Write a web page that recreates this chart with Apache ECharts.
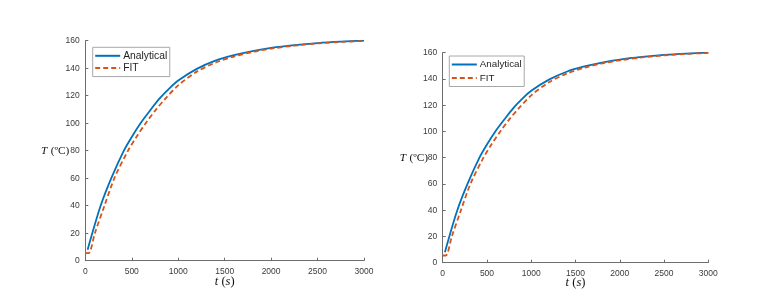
<!DOCTYPE html>
<html>
<head>
<meta charset="utf-8">
<script src="https://cdn.jsdelivr.net/npm/echarts@6/dist/echarts.min.js"></script>
<style>html,body{margin:0;padding:0;background:#fff}#c{width:776px;height:302px}</style>
</head>
<body>
<div id="c"></div>
<script>
const timeAnalytical = [25, 75, 165, 280, 415, 500, 600, 700, 800, 900, 1000, 1200, 1400, 1600, 1800, 2000, 2250, 2500, 2750, 3000];
const tempAnalytical = [8, 20, 40, 60, 80, 90, 100.5, 109.5, 118, 125, 131, 139.5, 145.5, 149.5, 152.5, 154.8, 156.8, 158.3, 159.3, 160];
const timeFit = [0, 35, 103, 206, 316, 460, 550, 650, 750, 850, 1000, 1200, 1400, 1600, 1800, 2000, 2250, 2500, 2750, 3000];
const tempFit = [5.5, 5.5, 20, 40, 60.5, 80, 90, 100, 109, 117, 127.5, 137.5, 144, 148.5, 151.8, 154.2, 156.4, 158, 159.1, 159.8];
const xTicks = [0, 500, 1000, 1500, 2000, 2500, 3000];
const yTicks = [0, 20, 40, 60, 80, 100, 120, 140, 160];
const seriesNames = ['Analytical', 'FIT'];

const pairs = (xs, ys) => xs.map((x, i) => [x, ys[i]]);
const grids = [
  {left: 85.3, right: 412, top: 40.7, bottom: 41.3},
  {left: 442.7, right: 67.7, top: 52.7, bottom: 39.3}
];
const axisCol = '#6e6e6e';
const tickFont = {color: '#3a3a3a', fontSize: 8.5, fontFamily: 'Liberation Sans, Arial, sans-serif'};
const serif = 'Liberation Serif, Times New Roman, serif';
const xAxes = grids.map((g, i) => ({
  type: 'value', gridIndex: i, min: xTicks[0], max: xTicks[xTicks.length - 1], interval: xTicks[1] - xTicks[0],
  axisLine: {onZero: false, lineStyle: {color: axisCol, width: 1}},
  axisTick: {inside: true, length: 3, lineStyle: {color: axisCol}},
  axisLabel: Object.assign({margin: 6, formatter: v => String(v)}, tickFont),
  splitLine: {show: false},
  name: '{i|t} {n|(}{i|s}{n|)}', nameLocation: 'middle', nameGap: i === 0 ? 15 : 14, nameMoveOverlap: false,
  nameTextStyle: {rich: {
    i: {fontFamily: serif, fontStyle: 'italic', fontSize: 12.5, color: '#111'},
    n: {fontFamily: serif, fontSize: 12.5, color: '#111'}
  }}
}));
const yAxes = grids.map((g, i) => ({
  type: 'value', gridIndex: i, min: yTicks[0], max: yTicks[yTicks.length - 1], interval: yTicks[1] - yTicks[0],
  axisLine: {onZero: false, lineStyle: {color: axisCol, width: 1}},
  axisTick: {inside: true, length: 3, lineStyle: {color: axisCol}},
  axisLabel: Object.assign({margin: 5.5, formatter: v => String(v)}, tickFont),
  splitLine: {show: false},
  name: '{i|T} {n|(ºC)}', nameLocation: 'middle', nameRotate: 0, nameGap: i === 0 ? 16 : 14.7, nameMoveOverlap: false,
  nameTextStyle: {align: 'right', rich: {
    i: {fontFamily: serif, fontStyle: 'italic', fontSize: 11.3, color: '#111'},
    n: {fontFamily: serif, fontSize: 11.3, color: '#111'}
  }}
}));
const series = [];
grids.forEach((g, i) => {
  series.push({
    name: seriesNames[0], type: 'line', xAxisIndex: i, yAxisIndex: i, smooth: 0.3, symbol: 'none',
    data: pairs(timeAnalytical, tempAnalytical), lineStyle: {color: '#0072BD', width: 1.8}, itemStyle: {color: '#0072BD'}, z: 2
  });
  series.push({
    name: seriesNames[1], type: 'line', xAxisIndex: i, yAxisIndex: i, smooth: 0.3, symbol: 'none',
    data: pairs(timeFit, tempFit), lineStyle: {color: '#D95319', width: 1.8, type: [5, 3]}, itemStyle: {color: '#D95319'}, z: 3
  });
});
function makeLegend(left, top, fontSize, lineW, gap) {
  return {
    left: left, top: top, orient: 'vertical', data: seriesNames,
    itemWidth: lineW, itemHeight: 10, itemGap: gap,
    itemStyle: {opacity: 0},
    borderColor: '#a8a8a8', borderWidth: 1, padding: [3.5, 2.5, 3.5, 1.5], backgroundColor: '#fff',
    textStyle: {fontSize: fontSize, color: '#1e1e1e', fontFamily: 'Liberation Sans, Arial, sans-serif', padding: [0, 0, 0, -2]},
    selectedMode: false
  };
}
const legends = [
  makeLegend(92.7, 47.3, 10.3, 25, 2.3),
  makeLegend(449.3, 56, 9.8, 25, 3.5)
];
const chart = echarts.init(document.getElementById('c'), null, {renderer: 'canvas'});
chart.setOption({
  animation: false,
  grid: grids,
  xAxis: xAxes,
  yAxis: yAxes,
  legend: legends,
  series: series
});
</script>
</body>
</html>
